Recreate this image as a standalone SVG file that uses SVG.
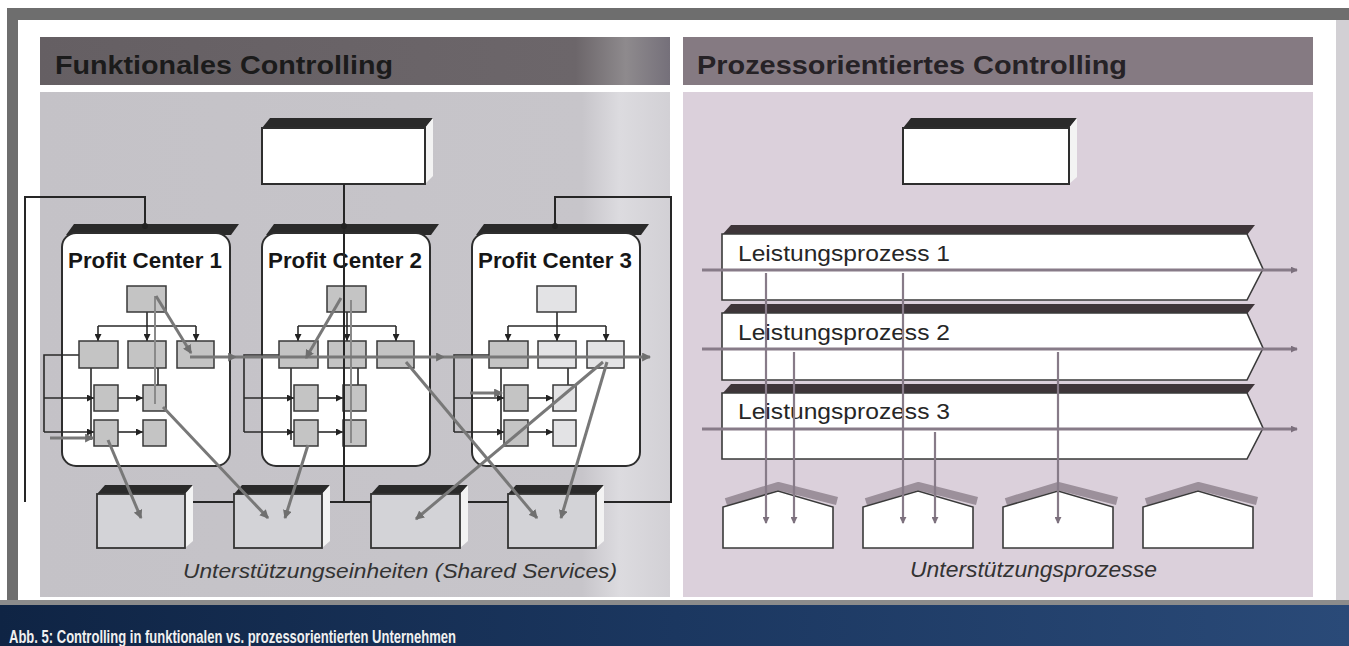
<svg xmlns="http://www.w3.org/2000/svg" width="1349" height="646" viewBox="0 0 1349 646">
<defs>
<style>
.hdr{font-family:"Liberation Sans",Arial,sans-serif;font-weight:bold;font-size:26px;fill:#1b1b1b}
.pcl{font-family:"Liberation Sans",Arial,sans-serif;font-weight:bold;font-size:22px;fill:#161616}
.lpt{font-family:"Liberation Sans",Arial,sans-serif;font-size:22px;fill:#262626}
.cap{font-family:"Liberation Sans",Arial,sans-serif;font-style:italic;font-size:21px;fill:#333333}
.abb{font-family:"Liberation Sans",Arial,sans-serif;font-weight:bold;font-size:18px;fill:#f0f0f0}
.top3d{fill:#2a2a2a}
.pc{fill:#ffffff;stroke:#2e2e2e;stroke-width:2}
.bx{fill:#c4c4c4;stroke:#383838;stroke-width:1.5}
.bxl{fill:#e3e3e5;stroke:#383838;stroke-width:1.5}
.org{fill:none;stroke:#2a2a2a;stroke-width:1.6}
.con{fill:none;stroke:#262626;stroke-width:2}
.gl{fill:none;stroke:#787878;stroke-width:3}
.glt{fill:none;stroke:#8a8a8a;stroke-width:2}
.ss{fill:#d3d3d7;stroke:#333333;stroke-width:1.8}
.side{fill:#f3f3f3}
.wbox{fill:#ffffff;stroke:#2e2e2e;stroke-width:2}
.lp{fill:#ffffff;stroke:#3a3a3a;stroke-width:1.6}
.lpband{fill:#3e3539}
.pl{fill:none;stroke:#877b88;stroke-width:3}
.vl{fill:none;stroke:#877b88;stroke-width:2.2}
.house{fill:#ffffff;stroke:#3a3a3a;stroke-width:1.6}
.hsh{fill:none;stroke:#9c909b;stroke-width:8;stroke-linejoin:round}
</style>
<marker id="ah" viewBox="0 0 8 8" refX="8" refY="4" markerWidth="7" markerHeight="7" markerUnits="userSpaceOnUse" orient="auto"><path d="M0,0 L8,4 L0,8 Z" fill="#222222"/></marker>
<marker id="ag" viewBox="0 0 8 8" refX="7" refY="4" markerWidth="9" markerHeight="9" markerUnits="userSpaceOnUse" orient="auto"><path d="M0,0 L8,4 L0,8 Z" fill="#6f6f6f"/></marker>
<marker id="ap" viewBox="0 0 8 8" refX="7" refY="4" markerWidth="7" markerHeight="7" markerUnits="userSpaceOnUse" orient="auto"><path d="M0,0 L8,4 L0,8 Z" fill="#7c707d"/></marker>
<linearGradient id="lbody" x1="0" y1="0" x2="1" y2="0">
<stop offset="0" stop-color="#c4c2c7"/>
<stop offset="0.86" stop-color="#c7c5ca"/>
<stop offset="0.92" stop-color="#dcdbdf"/>
<stop offset="1" stop-color="#d2d0d5"/>
</linearGradient>
<linearGradient id="lhdr" x1="0" y1="0" x2="1" y2="0">
<stop offset="0" stop-color="#655f63"/>
<stop offset="0.85" stop-color="#6c666a"/>
<stop offset="0.93" stop-color="#8e8a8d"/>
<stop offset="1" stop-color="#75707a"/>
</linearGradient>
<linearGradient id="navy" x1="0" y1="0" x2="1" y2="0">
<stop offset="0" stop-color="#0f2444"/>
<stop offset="0.5" stop-color="#1b3760"/>
<stop offset="1" stop-color="#2a4a78"/>
</linearGradient>
</defs>

<!-- frame -->
<rect width="1349" height="646" fill="#ffffff"/>
<rect x="7" y="8" width="1342" height="12" fill="#6e6e6e"/>
<rect x="7" y="8" width="11" height="596" fill="#6e6e6e"/>
<rect x="1336" y="20" width="13" height="584" fill="#d2d0d4"/>
<rect x="0" y="600" width="1349" height="5" fill="#8c8c8c"/>
<rect x="0" y="605" width="1349" height="41" fill="url(#navy)"/>
<text class="abb" x="9" y="643" textLength="447" lengthAdjust="spacingAndGlyphs">Abb. 5: Controlling in funktionalen vs. prozessorientierten Unternehmen</text>

<!-- left panel -->
<g id="left-panel">
<rect x="40" y="37" width="630" height="48" fill="url(#lhdr)"/>
<text class="hdr" x="55" y="74" textLength="338" lengthAdjust="spacingAndGlyphs">Funktionales Controlling</text>
<rect x="40" y="92" width="630" height="505" fill="url(#lbody)"/>
</g>

<!-- right panel -->
<g id="right-panel">
<rect x="683" y="37" width="630" height="48" fill="#857a82"/>
<text class="hdr" x="697" y="74" textLength="430" lengthAdjust="spacingAndGlyphs" style="fill:#262226">Prozessorientiertes Controlling</text>
<rect x="683" y="92" width="630" height="505" fill="#dbd0db"/>
</g>

<!-- left top box -->
<g id="top-left">
<path class="top3d" d="M270,118 H433 L425,128 H262 Z"/>
<path class="side" d="M425,128 L433,118 V176 L425,184 Z"/>
<rect class="wbox" x="262" y="128" width="163" height="56"/>
</g>

<!-- Profit Center 1 -->
<g id="pc1">
<path class="top3d" d="M74,224 H239 L231,235 H66 Z"/>
<rect class="pc" x="62" y="233" width="168" height="233" rx="14"/>
<text class="pcl" x="68" y="268" textLength="154" lengthAdjust="spacingAndGlyphs">Profit Center 1</text>
<path class="org" d="M147,312 V326 M98,326 H196 M79,355 H44 V432 M91,368 V440 M158,368 V385"/>
<path class="org" marker-end="url(#ah)" d="M98,326 V341"/>
<path class="org" marker-end="url(#ah)" d="M147,326 V341"/>
<path class="org" marker-end="url(#ah)" d="M196,326 V341"/>
<path class="org" marker-end="url(#ah)" d="M44,398 H94"/>
<path class="org" marker-end="url(#ah)" d="M118,398 H143"/>
<path class="org" marker-end="url(#ah)" d="M44,432 H94"/>
<path class="org" marker-end="url(#ah)" d="M118,432 H143"/>
<rect class="bx" x="127" y="286" width="39" height="26"/>
<rect class="bx" x="79" y="341" width="39" height="27"/>
<rect class="bx" x="128" y="341" width="38" height="27"/>
<rect class="bx" x="177" y="341" width="37" height="27"/>
<rect class="bx" x="94" y="385" width="24" height="26"/>
<rect class="bx" x="143" y="385" width="23" height="26"/>
<rect class="bx" x="94" y="420" width="24" height="26"/>
<rect class="bx" x="143" y="420" width="23" height="26"/>
</g>

<!-- Profit Center 2 -->
<g id="pc2" transform="translate(200,0)">
<path class="top3d" d="M74,224 H239 L231,235 H66 Z"/>
<rect class="pc" x="62" y="233" width="168" height="233" rx="14"/>
<text class="pcl" x="68" y="268" textLength="154" lengthAdjust="spacingAndGlyphs">Profit Center 2</text>
<path class="org" d="M147,312 V326 M98,326 H196 M79,355 H44 V432 M91,368 V440 M158,368 V385"/>
<path class="org" marker-end="url(#ah)" d="M98,326 V341"/>
<path class="org" marker-end="url(#ah)" d="M147,326 V341"/>
<path class="org" marker-end="url(#ah)" d="M196,326 V341"/>
<path class="org" marker-end="url(#ah)" d="M44,398 H94"/>
<path class="org" marker-end="url(#ah)" d="M118,398 H143"/>
<path class="org" marker-end="url(#ah)" d="M44,432 H94"/>
<path class="org" marker-end="url(#ah)" d="M118,432 H143"/>
<rect class="bx" x="127" y="286" width="39" height="26"/>
<rect class="bx" x="79" y="341" width="39" height="27"/>
<rect class="bx" x="128" y="341" width="38" height="27"/>
<rect class="bx" x="177" y="341" width="37" height="27"/>
<rect class="bx" x="94" y="385" width="24" height="26"/>
<rect class="bx" x="143" y="385" width="23" height="26"/>
<rect class="bx" x="94" y="420" width="24" height="26"/>
<rect class="bx" x="143" y="420" width="23" height="26"/>
</g>

<!-- Profit Center 3 -->
<g id="pc3" transform="translate(410,0)">
<path class="top3d" d="M74,224 H239 L231,235 H66 Z"/>
<rect class="pc" x="62" y="233" width="168" height="233" rx="14"/>
<text class="pcl" x="68" y="268" textLength="154" lengthAdjust="spacingAndGlyphs">Profit Center 3</text>
<path class="org" d="M147,312 V326 M98,326 H196 M79,355 H44 V432 M91,368 V440 M158,368 V385"/>
<path class="org" marker-end="url(#ah)" d="M98,326 V341"/>
<path class="org" marker-end="url(#ah)" d="M147,326 V341"/>
<path class="org" marker-end="url(#ah)" d="M196,326 V341"/>
<path class="org" marker-end="url(#ah)" d="M44,398 H94"/>
<path class="org" marker-end="url(#ah)" d="M118,398 H143"/>
<path class="org" marker-end="url(#ah)" d="M44,432 H94"/>
<path class="org" marker-end="url(#ah)" d="M118,432 H143"/>
<rect class="bxl" x="127" y="286" width="39" height="26"/>
<rect class="bx" x="79" y="341" width="39" height="27"/>
<rect class="bxl" x="128" y="341" width="38" height="27"/>
<rect class="bxl" x="177" y="341" width="37" height="27"/>
<rect class="bx" x="94" y="385" width="24" height="26"/>
<rect class="bxl" x="143" y="385" width="23" height="26"/>
<rect class="bx" x="94" y="420" width="24" height="26"/>
<rect class="bxl" x="143" y="420" width="23" height="26"/>
</g>

<!-- organisational connectors -->
<g id="connectors-left">
<path class="con" d="M25,502 V197 H145 V225"/>
<path class="con" d="M344,184 V502"/>
<path class="con" d="M596,502 H671 V197 H555 V225"/>
<path class="con" d="M185,502 H234 M322,502 H371 M460,502 H508"/>
<circle cx="145" cy="226" r="3" fill="#222222"/>
<circle cx="344" cy="226" r="3" fill="#222222"/>
<circle cx="555" cy="226" r="3" fill="#222222"/>
</g>

<!-- shared services -->
<g id="ss1">
<path class="top3d" d="M105,485 H193 L185,494 H97 Z"/>
<path class="side" d="M185,494 L193,485 V541 L185,548 Z"/>
<rect class="ss" x="97" y="494" width="88" height="54"/>
</g>
<g id="ss2">
<path class="top3d" d="M242,485 H330 L322,494 H234 Z"/>
<path class="side" d="M322,494 L330,485 V541 L322,548 Z"/>
<rect class="ss" x="234" y="494" width="88" height="54"/>
</g>
<g id="ss3">
<path class="top3d" d="M379,485 H468 L460,494 H371 Z"/>
<path class="side" d="M460,494 L468,485 V541 L460,548 Z"/>
<rect class="ss" x="371" y="494" width="89" height="54"/>
</g>
<g id="ss4">
<path class="top3d" d="M516,485 H604 L596,494 H508 Z"/>
<path class="side" d="M596,494 L604,485 V541 L596,548 Z"/>
<rect class="ss" x="508" y="494" width="88" height="54"/>
</g>

<!-- service flows (gray) -->
<g id="connectors-flows">
<path class="glt" d="M155,296 V404 M351,300 V443"/>
<path class="gl" marker-end="url(#ag)" d="M156,296 L191,353"/>
<path class="gl" marker-end="url(#ag)" d="M108,440 L141,518"/>
<path class="gl" marker-end="url(#ag)" d="M163,407 L268,518"/>
<path class="gl" marker-end="url(#ag)" d="M50,438 H93"/>
<path class="gl" marker-end="url(#ag)" d="M190,357 H236"/>
<path class="gl" marker-end="url(#ag)" d="M236,357 H444"/>
<path class="gl" marker-end="url(#ag)" d="M444,357 H650"/>
<path class="gl" marker-end="url(#ag)" d="M341,298 L306,358"/>
<path class="gl" marker-end="url(#ag)" d="M308,445 L285,518"/>
<path class="gl" marker-end="url(#ag)" d="M406,362 L537,518"/>
<path class="gl" marker-end="url(#ag)" d="M603,362 L416,519"/>
<path class="gl" marker-end="url(#ag)" d="M607,362 L561,518"/>
<path class="gl" marker-end="url(#ag)" d="M470,393 H502"/>
</g>

<text class="cap" x="183" y="578" textLength="434" lengthAdjust="spacingAndGlyphs">Unterstützungseinheiten (Shared Services)</text>

<!-- right top box -->
<g id="top-right">
<path class="top3d" d="M911,118 H1077 L1069,128 H903 Z"/>
<path class="side" d="M1069,128 L1077,118 V177 L1069,184 Z"/>
<rect class="wbox" x="903" y="128" width="166" height="56"/>
</g>

<!-- process bars -->
<g id="lp1">
<path class="lpband" d="M731,225 H1255 L1247,235 H722 Z"/>
<path class="lp" d="M722,234 H1247 L1263,269 L1247,300 H722 Z"/>
<text class="lpt" x="738" y="261" textLength="212" lengthAdjust="spacingAndGlyphs">Leistungsprozess 1</text>
</g>
<g id="lp2">
<path class="lpband" d="M731,304 H1255 L1247,314 H722 Z"/>
<path class="lp" d="M722,313 H1247 L1263,348 L1247,380 H722 Z"/>
<text class="lpt" x="738" y="340" textLength="212" lengthAdjust="spacingAndGlyphs">Leistungsprozess 2</text>
</g>
<g id="lp3">
<path class="lpband" d="M731,384 H1255 L1247,394 H722 Z"/>
<path class="lp" d="M722,393 H1247 L1263,428 L1247,459 H722 Z"/>
<text class="lpt" x="738" y="419" textLength="212" lengthAdjust="spacingAndGlyphs">Leistungsprozess 3</text>
</g>

<g id="connectors-process">
<path class="pl" marker-end="url(#ap)" d="M702,270 H1297"/>
<path class="pl" marker-end="url(#ap)" d="M702,349 H1297"/>
<path class="pl" marker-end="url(#ap)" d="M702,429 H1297"/>
</g>

<!-- support processes -->
<g id="sp1">
<polyline class="hsh" points="726,502 778,486 837,501"/>
<path class="house" d="M723,548 V507 L778,491 L833,507 V548 Z"/>
</g>
<g id="sp2">
<polyline class="hsh" points="866,502 918,486 977,501"/>
<path class="house" d="M863,548 V507 L918,491 L973,507 V548 Z"/>
</g>
<g id="sp3">
<polyline class="hsh" points="1006,502 1058,486 1117,501"/>
<path class="house" d="M1003,548 V507 L1058,491 L1113,507 V548 Z"/>
</g>
<g id="sp4">
<polyline class="hsh" points="1146,502 1198,486 1257,501"/>
<path class="house" d="M1143,548 V507 L1198,491 L1253,507 V548 Z"/>
</g>

<g id="connectors-support">
<path class="vl" marker-end="url(#ap)" d="M766,273 V523"/>
<path class="vl" marker-end="url(#ap)" d="M794,352 V523"/>
<path class="vl" marker-end="url(#ap)" d="M903,273 V523"/>
<path class="vl" marker-end="url(#ap)" d="M935,432 V523"/>
<path class="vl" marker-end="url(#ap)" d="M1058,352 V523"/>
</g>

<text class="cap" x="910" y="577" textLength="247" lengthAdjust="spacingAndGlyphs" style="font-size:22px">Unterstützungsprozesse</text>
</svg>
